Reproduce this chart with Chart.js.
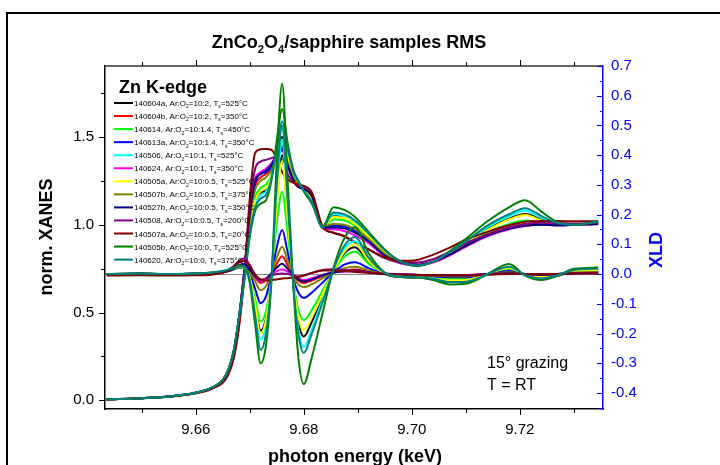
<!DOCTYPE html>
<html>
<head>
<meta charset="utf-8">
<script src="https://cdn.jsdelivr.net/npm/chart.js@4.4.1/dist/chart.umd.min.js"></script>
<style>
  html, body { margin: 0; padding: 0; background: #fff; }
  canvas { display: block; }
</style>
</head>
<body>
<canvas id="chart" width="720" height="465"></canvas>
<script>
const FONT = '"Liberation Sans", Arial, sans-serif';

// photon energy grid (keV)
const energy = [9.6435, 9.650, 9.655, 9.660, 9.663, 9.665, 9.666, 9.667, 9.668, 9.669,
  9.670, 9.671, 9.672, 9.673, 9.674, 9.675, 9.676, 9.677, 9.678, 9.679, 9.680,
  9.6815, 9.6835, 9.6855, 9.6875, 9.6895, 9.692, 9.695, 9.698, 9.701,
  9.704, 9.707, 9.710, 9.714, 9.718, 9.721, 9.724, 9.727, 9.730, 9.7345];

const sampleIds = ['140604a', '140604b', '140614', '140613a', '140506', '140624', '140505a',
  '140507b', '140527b', '140508', '140507a', '140505b', '140620'];
const ratios = ['10:2', '10:2', '10:1.4', '10:1.4', '10:1', '10:1', '10:0.5',
  '10:0.5', '10:0.5', '10:0.5', '10:0.5', '10:0', '10:0'];
const temps = ['525', '350', '450', '350', '525', '350', '525', '375', '350', '200', '20', '525', '375'];

const xTicks = [9.66, 9.68, 9.70, 9.72];
const yTicks = [0.0, 0.5, 1.0, 1.5];
const y2Ticks = [-0.4, -0.3, -0.2, -0.1, 0.0, 0.1, 0.2, 0.3, 0.4, 0.5, 0.6, 0.7];

// normalised XANES
const xanes140604a = [0.005,0.012,0.022,0.043,0.072,0.115,0.170,0.275,0.470,0.710, 0.970,1.130,1.180,1.200,1.270,1.410,1.500,1.400,1.290,1.230,1.200, 1.145,0.985,1.055,1.045,1.010,0.940,0.850,0.790,0.770, 0.790,0.835,0.895,0.975,1.035,1.062,1.030,1.005,1.000,1.012];
const xanes140604b = [0.005,0.012,0.021,0.041,0.068,0.105,0.150,0.240,0.420,0.700, 1.020,1.220,1.270,1.290,1.320,1.400,1.450,1.360,1.270,1.220,1.205, 1.155,0.990,1.000,0.995,0.970,0.915,0.835,0.785,0.772, 0.790,0.830,0.880,0.945,0.985,1.003,1.005,1.002,1.002,1.005];
const xanes140614 = [0.005,0.012,0.022,0.043,0.072,0.115,0.170,0.275,0.470,0.720, 1.000,1.160,1.210,1.230,1.280,1.400,1.470,1.380,1.280,1.225,1.205, 1.150,0.985,1.030,1.025,0.995,0.930,0.840,0.785,0.770, 0.790,0.830,0.885,0.955,1.005,1.024,1.010,1.000,1.000,1.008];
const xanes140613a = [0.005,0.012,0.022,0.043,0.072,0.115,0.170,0.275,0.470,0.740, 1.050,1.240,1.290,1.300,1.330,1.400,1.440,1.350,1.265,1.215,1.205, 1.160,0.985,0.995,0.990,0.965,0.910,0.830,0.785,0.772, 0.790,0.830,0.880,0.940,0.980,0.998,1.000,0.998,1.000,1.005];
const xanes140506 = [0.005,0.012,0.022,0.043,0.072,0.115,0.170,0.275,0.470,0.700, 0.960,1.120,1.170,1.190,1.270,1.430,1.550,1.420,1.300,1.240,1.200, 1.140,0.985,1.060,1.050,1.015,0.945,0.850,0.790,0.770, 0.790,0.840,0.900,0.985,1.050,1.080,1.040,1.008,1.000,1.015];
const xanes140624 = [0.005,0.012,0.022,0.043,0.072,0.115,0.170,0.275,0.470,0.740, 1.060,1.260,1.300,1.320,1.350,1.400,1.420,1.330,1.260,1.215,1.210, 1.170,0.980,0.975,0.965,0.940,0.895,0.820,0.780,0.770, 0.785,0.825,0.875,0.935,0.975,0.993,1.000,0.998,1.000,1.005];
const xanes140505a = [0.005,0.012,0.022,0.043,0.072,0.115,0.170,0.275,0.470,0.710, 0.980,1.140,1.190,1.210,1.270,1.400,1.480,1.390,1.285,1.230,1.205, 1.150,0.985,1.045,1.040,1.005,0.935,0.845,0.790,0.770, 0.790,0.835,0.895,0.970,1.030,1.056,1.025,1.005,1.000,1.010];
const xanes140507b = [0.005,0.012,0.022,0.043,0.072,0.115,0.170,0.275,0.470,0.730, 1.030,1.200,1.250,1.270,1.310,1.400,1.450,1.360,1.275,1.225,1.210, 1.160,0.990,1.005,1.000,0.975,0.920,0.835,0.785,0.772, 0.790,0.830,0.880,0.945,0.985,1.005,1.005,1.000,1.000,1.005];
const xanes140527b = [0.005,0.012,0.022,0.043,0.072,0.115,0.170,0.275,0.470,0.740, 1.060,1.250,1.290,1.310,1.340,1.400,1.430,1.340,1.260,1.215,1.205, 1.165,0.985,0.985,0.980,0.955,0.905,0.825,0.785,0.772, 0.790,0.830,0.880,0.940,0.978,0.995,1.000,0.998,1.000,1.005];
const xanes140508 = [0.005,0.012,0.021,0.041,0.070,0.110,0.160,0.260,0.450,0.720, 1.100,1.320,1.360,1.370,1.380,1.390,1.360,1.290,1.245,1.225,1.220, 1.180,0.985,0.955,0.935,0.900,0.860,0.810,0.785,0.785, 0.805,0.845,0.895,0.945,0.985,1.005,1.012,1.010,1.008,1.010];
const xanes140507a = [0.005,0.012,0.020,0.040,0.066,0.100,0.145,0.235,0.420,0.720, 1.150,1.410,1.430,1.432,1.428,1.380,1.300,1.260,1.240,1.228,1.222, 1.185,0.990,0.955,0.935,0.900,0.860,0.815,0.795,0.800, 0.830,0.870,0.915,0.960,0.998,1.018,1.022,1.022,1.020,1.020];
const xanes140505b = [0.005,0.012,0.022,0.043,0.072,0.115,0.170,0.275,0.470,0.680, 0.930,1.080,1.120,1.140,1.250,1.480,1.660,1.470,1.320,1.250,1.190, 1.120,0.990,1.100,1.085,1.045,0.960,0.860,0.790,0.765, 0.790,0.850,0.920,1.020,1.100,1.140,1.075,1.015,1.000,1.020];
const xanes140620 = [0.005,0.012,0.022,0.043,0.072,0.115,0.170,0.275,0.470,0.690, 0.950,1.100,1.150,1.170,1.260,1.440,1.590,1.440,1.310,1.245,1.195, 1.130,0.985,1.070,1.060,1.025,0.950,0.855,0.790,0.768, 0.790,0.845,0.905,0.995,1.060,1.095,1.050,1.010,1.000,1.018];

// XLD
const xld140604a = [0.000,0.001,0.000,0.001,0.004,0.008,0.012,0.018,0.025,0.022, -0.012,-0.100,-0.190,-0.150,-0.012,0.240,0.400,0.200,-0.020,-0.160,-0.210, -0.160,-0.075,0.010,0.070,0.090,0.040,0.000,-0.010,-0.012, -0.018,-0.027,-0.026,-0.002,0.018,-0.004,-0.015,-0.006,0.010,0.012];
const xld140604b = [0.000,0.001,0.000,0.001,0.003,0.006,0.010,0.018,0.030,0.032, 0.012,-0.012,-0.030,-0.022,0.002,0.035,0.060,0.030,-0.002,-0.022,-0.030, -0.022,-0.006,0.006,0.012,0.015,0.008,0.000,-0.002,-0.004, -0.005,-0.006,-0.006,0.000,0.004,0.000,-0.002,0.000,0.004,0.005];
const xld140614 = [0.000,0.001,0.000,0.001,0.003,0.007,0.010,0.015,0.022,0.020, -0.010,-0.085,-0.160,-0.125,-0.010,0.170,0.277,0.140,-0.015,-0.120,-0.155, -0.120,-0.055,0.008,0.058,0.075,0.035,0.002,-0.006,-0.008, -0.012,-0.017,-0.016,0.000,0.018,-0.002,-0.008,-0.002,0.008,0.010];
const xld140613a = [0.000,0.001,0.000,0.001,0.003,0.006,0.010,0.015,0.022,0.022, 0.000,-0.050,-0.098,-0.075,-0.005,0.090,0.148,0.075,-0.010,-0.062,-0.080, -0.062,-0.028,0.006,0.032,0.040,0.020,0.001,-0.004,-0.006, -0.008,-0.011,-0.011,0.000,0.010,0.000,-0.005,0.000,0.006,0.008];
const xld140506 = [0.000,0.001,0.000,0.002,0.004,0.008,0.012,0.018,0.025,0.022, -0.015,-0.120,-0.220,-0.170,-0.015,0.270,0.450,0.225,-0.020,-0.185,-0.245, -0.185,-0.085,0.012,0.085,0.110,0.050,0.003,-0.008,-0.010, -0.015,-0.024,-0.023,0.000,0.022,-0.003,-0.012,-0.004,0.012,0.015];
const xld140624 = [0.000,0.001,0.000,0.001,0.003,0.006,0.012,0.022,0.038,0.045, 0.022,-0.010,-0.026,-0.018,-0.002,0.010,0.015,0.008,-0.005,-0.015,-0.020, -0.014,-0.002,0.005,0.008,0.010,0.005,0.000,-0.002,-0.003, -0.004,-0.004,-0.004,0.000,0.002,0.000,-0.002,0.000,0.003,0.004];
const xld140505a = [0.000,0.001,0.000,0.001,0.004,0.008,0.012,0.018,0.025,0.022, -0.012,-0.105,-0.200,-0.155,-0.012,0.230,0.380,0.190,-0.018,-0.145,-0.190, -0.145,-0.068,0.010,0.075,0.100,0.045,0.002,-0.008,-0.010, -0.015,-0.021,-0.020,0.000,0.020,-0.002,-0.010,-0.003,0.010,0.012];
const xld140507b = [0.000,0.001,0.000,0.001,0.003,0.006,0.010,0.016,0.025,0.025, 0.005,-0.025,-0.054,-0.040,0.000,0.055,0.092,0.045,-0.005,-0.035,-0.044, -0.034,-0.014,0.005,0.020,0.025,0.012,0.000,-0.003,-0.005, -0.006,-0.008,-0.008,0.000,0.006,0.000,-0.003,0.000,0.005,0.006];
const xld140527b = [0.000,0.001,0.000,0.001,0.003,0.006,0.010,0.018,0.030,0.035, 0.015,-0.008,-0.022,-0.015,0.002,0.022,0.035,0.018,-0.003,-0.018,-0.025, -0.018,-0.004,0.005,0.010,0.012,0.006,0.000,-0.002,-0.003, -0.004,-0.005,-0.005,0.000,0.003,0.000,-0.002,0.000,0.003,0.004];
const xld140508 = [0.000,0.001,0.000,0.001,0.003,0.007,0.014,0.026,0.045,0.053, 0.030,-0.005,-0.020,-0.015,-0.005,0.000,0.002,0.000,-0.005,-0.008,-0.005, 0.004,0.014,0.016,0.014,0.010,0.006,0.002,0.000,-0.002, -0.003,-0.003,-0.003,0.000,0.002,0.000,-0.001,0.000,0.002,0.003];
const xld140507a = [-0.005,-0.004,-0.005,-0.004,-0.002,0.004,0.012,0.024,0.040,0.045, 0.028,-0.002,-0.018,-0.022,-0.020,-0.018,-0.015,-0.014,-0.012,-0.010,-0.005, 0.004,0.012,0.012,0.010,0.007,0.004,0.000,-0.002,-0.003, -0.004,-0.004,-0.004,-0.002,0.000,0.000,-0.001,0.000,0.002,0.002];
const xld140505b = [0.000,0.002,0.000,0.002,0.005,0.010,0.015,0.020,0.030,0.025, -0.030,-0.170,-0.300,-0.240,-0.030,0.380,0.640,0.320,-0.020,-0.280,-0.370, -0.280,-0.130,0.020,0.120,0.158,0.070,0.005,-0.010,-0.012, -0.020,-0.035,-0.033,0.000,0.034,-0.005,-0.020,-0.005,0.018,0.022];
const xld140620 = [0.000,0.002,0.000,0.002,0.005,0.010,0.015,0.020,0.028,0.025, -0.020,-0.140,-0.255,-0.200,-0.020,0.300,0.500,0.250,-0.020,-0.200,-0.265, -0.200,-0.095,0.015,0.095,0.125,0.055,0.004,-0.008,-0.010, -0.016,-0.027,-0.026,0.000,0.025,-0.003,-0.015,-0.004,0.014,0.018];

const xanesSeries = [xanes140604a, xanes140604b, xanes140614, xanes140613a, xanes140506, xanes140624,
  xanes140505a, xanes140507b, xanes140527b, xanes140508, xanes140507a, xanes140505b, xanes140620];
const xldSeries = [xld140604a, xld140604b, xld140614, xld140613a, xld140506, xld140624,
  xld140505a, xld140507b, xld140527b, xld140508, xld140507a, xld140505b, xld140620];

const colors = ['#000000', '#ff0000', '#00ff00', '#0000ff', '#00ffff', '#ff00ff', '#ffff00',
  '#808000', '#000080', '#800080', '#800000', '#008000', '#008080'];
const BLUE = '#0000ff';

function drawParts(ctx, x, y, parts, size, weight) {
  parts.forEach(p => {
    const s = p.sub ? size * 0.62 : size;
    ctx.font = weight + ' ' + s + 'px ' + FONT;
    ctx.fillText(p.t, x, p.sub ? y + size * 0.3 : y);
    x += ctx.measureText(p.t).width;
  });
  return x;
}

function partsWidth(ctx, parts, size, weight) {
  let w = 0;
  parts.forEach(p => {
    const s = p.sub ? size * 0.62 : size;
    ctx.font = weight + ' ' + s + 'px ' + FONT;
    w += ctx.measureText(p.t).width;
  });
  return w;
}

function tickMarks(ctx, scale, step, len, dir, horizontal, edge) {
  const start = Math.ceil(scale.min / step - 1e-6);
  const end = Math.floor(scale.max / step + 1e-6);
  for (let k = start; k <= end; k++) {
    const p = Math.round(scale.getPixelForValue(k * step)) + 0.5;
    ctx.beginPath();
    if (horizontal) {
      ctx.moveTo(p, edge);
      ctx.lineTo(p, edge + dir * len);
    } else {
      ctx.moveTo(edge, p);
      ctx.lineTo(edge + dir * len, p);
    }
    ctx.stroke();
  }
}

const decorPlugin = {
  id: 'decor',
  afterDraw(chart) {
    const ctx = chart.ctx;
    const a = chart.chartArea;
    const sx = chart.scales.x, sy = chart.scales.y, sy2 = chart.scales.y2;
    ctx.save();

    // outer frame
    ctx.strokeStyle = '#000';
    ctx.lineWidth = 2;
    ctx.strokeRect(7, 13, 760, 520);

    // top frame line
    ctx.lineWidth = 1.5;
    ctx.strokeStyle = '#333';
    ctx.beginPath();
    ctx.moveTo(a.left, a.top);
    ctx.lineTo(a.right, a.top);
    ctx.stroke();

    // ticks
    ctx.lineWidth = 1;
    ctx.strokeStyle = '#000';
    tickMarks(ctx, sx, 0.02, 6, 1, true, a.bottom);
    tickMarks(ctx, sx, 0.01, 4, 1, true, a.bottom);
    tickMarks(ctx, sx, 0.02, 6, -1, true, a.top);
    tickMarks(ctx, sx, 0.01, 4, -1, true, a.top);
    tickMarks(ctx, sy, 0.5, 6, -1, false, a.left);
    tickMarks(ctx, sy, 0.25, 4, -1, false, a.left);
    ctx.strokeStyle = BLUE;
    tickMarks(ctx, sy2, 0.1, 6, -1, false, a.right);
    tickMarks(ctx, sy2, 0.05, 3, -1, false, a.right);

    // title
    ctx.fillStyle = '#000';
    ctx.textAlign = 'left';
    ctx.textBaseline = 'alphabetic';
    const title = [{t: 'ZnCo'}, {t: '2', sub: true}, {t: 'O'}, {t: '4', sub: true}, {t: '/sapphire samples RMS'}];
    const tw = partsWidth(ctx, title, 18, 'bold');
    drawParts(ctx, 349 - tw / 2, 48, title, 18, 'bold');

    // axis titles
    ctx.font = 'bold 18px ' + FONT;
    ctx.textAlign = 'center';
    ctx.fillText('photon energy (keV)', 355, 462);
    ctx.save();
    ctx.translate(47, 237);
    ctx.rotate(-Math.PI / 2);
    ctx.textBaseline = 'middle';
    ctx.fillText('norm. XANES', 0, 0);
    ctx.restore();
    ctx.save();
    ctx.fillStyle = BLUE;
    ctx.translate(657, 250);
    ctx.rotate(-Math.PI / 2);
    ctx.textBaseline = 'middle';
    ctx.fillText('XLD', 0, 0);
    ctx.restore();

    // legend
    ctx.textAlign = 'left';
    ctx.font = 'bold 18px ' + FONT;
    ctx.fillText('Zn K-edge', 119, 93);
    sampleIds.forEach((id, i) => {
      const y = 103 + i * 13.05;
      ctx.strokeStyle = colors[i];
      ctx.lineWidth = 2;
      ctx.beginPath();
      ctx.moveTo(114, y);
      ctx.lineTo(133, y);
      ctx.stroke();
      ctx.fillStyle = '#000';
      drawParts(ctx, 134, y + 3, [
        {t: id + ', Ar:O'}, {t: '2', sub: true}, {t: '=' + ratios[i] + ', T'},
        {t: 's', sub: true}, {t: '=' + temps[i] + '°C'}
      ], 8, 'normal');
    });

    // note
    ctx.font = '16px ' + FONT;
    ctx.fillText('15° grazing', 487, 368);
    ctx.fillText('T = RT', 487, 390);
    ctx.restore();
  }
};

const datasets = [];
xanesSeries.forEach((vals, i) => {
  datasets.push({
    label: sampleIds[i] + ' XANES',
    yAxisID: 'y',
    borderColor: colors[i],
    data: energy.map((e, k) => ({x: e, y: vals[k]})),
    order: 100 - i
  });
});
xldSeries.forEach((vals, i) => {
  datasets.push({
    label: sampleIds[i] + ' XLD',
    yAxisID: 'y2',
    borderColor: colors[i],
    data: energy.map((e, k) => ({x: e, y: vals[k]})),
    order: 50 - i
  });
});

const tickFont = {family: FONT, size: 15};

new Chart(document.getElementById('chart'), {
  type: 'line',
  data: {datasets: datasets},
  options: {
    responsive: false,
    animation: false,
    layout: {padding: {top: 66, left: 0, right: 0, bottom: 0}},
    plugins: {legend: {display: false}, tooltip: {enabled: false}},
    elements: {
      point: {radius: 0},
      line: {borderWidth: 2, cubicInterpolationMode: 'monotone', fill: false}
    },
    scales: {
      x: {
        type: 'linear', min: 9.6432, max: 9.7354,
        afterFit: s => { s.height = 56; },
        afterBuildTicks: s => { s.ticks = xTicks.map(v => ({value: v})); },
        grid: {display: false, drawTicks: false},
        border: {color: '#000', width: 1.5},
        ticks: {padding: 12, color: '#000', font: tickFont, maxRotation: 0, autoSkip: false,
          callback: v => v.toFixed(2)}
      },
      y: {
        position: 'left', min: -0.0496, max: 1.905,
        afterFit: s => { s.width = 105; },
        afterBuildTicks: s => { s.ticks = yTicks.map(v => ({value: v})); },
        grid: {display: false, drawTicks: false},
        border: {color: '#000', width: 1.5},
        ticks: {padding: 11, color: '#000', font: tickFont, autoSkip: false,
          callback: v => v.toFixed(1)}
      },
      y2: {
        position: 'right', min: -0.454, max: 0.7,
        afterFit: s => { s.width = 117; },
        afterBuildTicks: s => { s.ticks = y2Ticks.map(v => ({value: v})); },
        grid: {
          display: true, drawTicks: false, lineWidth: 1,
          color: c => (c.tick && Math.abs(c.tick.value) < 1e-9) ? '#8c8c8c' : 'rgba(0,0,0,0)'
        },
        border: {color: BLUE, width: 1.5},
        ticks: {padding: 8, color: BLUE, font: tickFont, autoSkip: false,
          callback: v => v.toFixed(1)}
      }
    }
  },
  plugins: [decorPlugin]
});
</script>
</body>
</html>
